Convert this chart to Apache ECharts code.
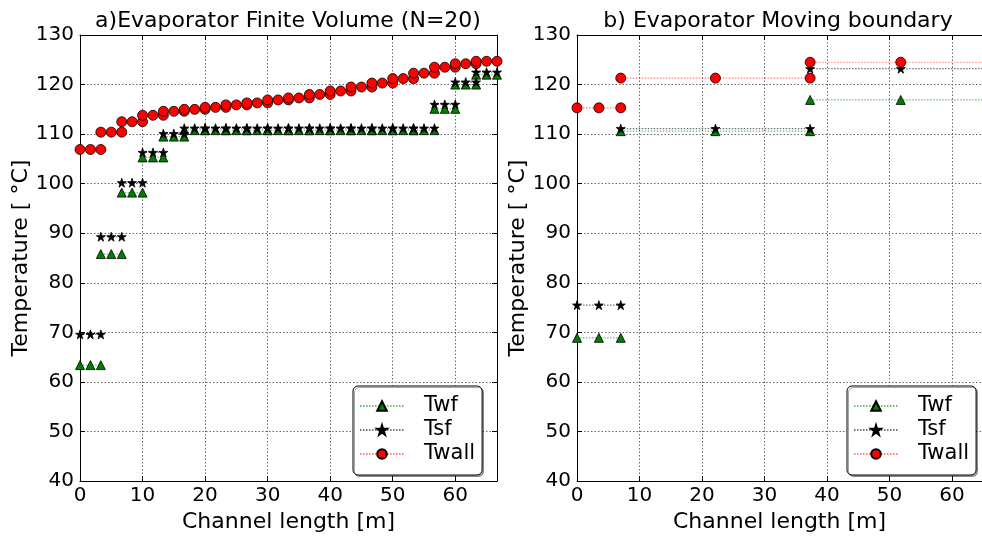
<!DOCTYPE html>
<html>
<head>
<meta charset="utf-8">
<script src="https://cdn.jsdelivr.net/npm/echarts@6/dist/echarts.min.js"></script>
<style>
html,body{margin:0;padding:0;background:#fff;}
#chart{width:982px;height:538px;}
</style>
</head>
<body>
<div id="chart"></div>
<script>
// ---- Data: a) Finite Volume (N=20) ----
// node positions along channel (each cell uses start, middle, end node)
const fvNodes = [0, 1.67, 3.33, 5.0, 6.67, 8.33, 10.0, 11.67, 13.33, 15.0, 16.67, 18.33, 20.0, 21.67, 23.33, 25.0, 26.67, 28.33, 30.0, 31.67, 33.33, 35.0, 36.67, 38.33, 40.0, 41.67, 43.33, 45.0, 46.67, 48.33, 50.0, 51.67, 53.33, 55.0, 56.67, 58.33, 60.0, 61.67, 63.33, 65.0, 66.67];
const fvTwf   = [63.4, 85.8, 98.2, 105.3, 109.5, 110.8, 110.8, 110.8, 110.8, 110.8, 110.8, 110.8, 110.8, 110.8, 110.8, 110.8, 110.8, 115.1, 120.0, 122.0];
const fvTsf   = [69.6, 89.3, 100.2, 106.3, 110.1, 111.2, 111.2, 111.2, 111.2, 111.2, 111.2, 111.2, 111.2, 111.2, 111.2, 111.2, 111.2, 116.0, 120.5, 122.5];
const fvTwall = [106.9, 110.4, 112.5, 113.8, 114.6, 115.0, 115.4, 115.9, 116.3, 116.9, 117.3, 118.0, 118.7, 119.5, 120.3, 121.2, 122.3, 123.5, 124.2, 124.7];

// ---- Data: b) Moving boundary (3 zones) ----
const mbNodes = [0, 3.5, 7.0, 22.15, 37.3, 51.8, 66.3];
const mbTwf   = [68.9, 110.6, 116.9];
const mbTsf   = [75.5, 111.1, 123.2];
const mbTwall = [115.3, 121.3, 124.5];

const xTicks = [0, 10, 20, 30, 40, 50, 60];
const yTicks = [40, 50, 60, 70, 80, 90, 100, 110, 120, 130];
const xMax = [66.67, 64.8];
const seriesNames = ['Twf', 'Tsf', 'Twall'];

function cellData(nodes, vals) {
  const out = [];
  for (let i = 0; i < vals.length; i++) {
    out.push([nodes[2 * i], vals[i]]);
    out.push([nodes[2 * i + 1], vals[i]]);
    out.push([nodes[2 * i + 2], vals[i]]);
    out.push([nodes[2 * i + 2], '-']);
  }
  return out;
}

const FONT = 'DejaVu Sans';
const STAR = 'path://M50,2 L61.5,37 L98,37 L68.5,58.5 L79.5,94 L50,72 L20.5,94 L31.5,58.5 L2,37 L38.5,37 Z';

const styles = {
  Twf:   {symbol: 'triangle', size: 9, fill: '#008000', line: 'rgba(0,128,0,0.55)'},
  Tsf:   {symbol: STAR, size: 9, fill: '#000000', line: 'rgba(0,0,0,0.55)'},
  Twall: {symbol: 'circle', size: 10, fill: '#ff0000', line: 'rgba(255,0,0,0.5)'}
};

function mkSeries(name, data, gi) {
  const s = styles[name];
  return {
    type: 'line', name: name, data: data,
    xAxisIndex: gi * 2, yAxisIndex: gi * 2,
    symbol: s.symbol, symbolSize: s.size, showSymbol: true,
    connectNulls: false, clip: true,
    itemStyle: {color: s.fill, borderColor: '#000', borderWidth: 0.8},
    lineStyle: {color: s.line, width: 1.2, type: [1.5, 1.5]},
    emphasis: {disabled: true}
  };
}

const grids = [
  {left: 80, top: 35, width: 417, height: 450},
  {left: 577, top: 35, width: 405, height: 450}
];

const xAxes = [], yAxes = [];
for (let gi = 0; gi < 2; gi++) {
  xAxes.push({
    type: 'value', gridIndex: gi, min: xTicks[0], max: xMax[gi], interval: 10, position: 'bottom',
    name: 'Channel length [m]', nameLocation: 'middle', nameGap: 27,
    nameTextStyle: {fontFamily: FONT, fontSize: 22, color: '#000'},
    axisLine: {show: true, onZero: false, lineStyle: {color: '#000', width: 1}},
    axisTick: {show: true, inside: true, length: 5, lineStyle: {color: '#000'}},
    axisLabel: {fontFamily: FONT, fontSize: 20, color: '#000', margin: 5, showMaxLabel: false,
      formatter: v => (xTicks.indexOf(v) >= 0 ? String(v) : '')},
    splitLine: {show: true, lineStyle: {color: '#666', width: 1, type: [1.5, 2]}}
  });
  xAxes.push({
    type: 'value', gridIndex: gi, min: xTicks[0], max: xMax[gi], interval: 10, position: 'top',
    axisLine: {show: true, onZero: false, lineStyle: {color: '#000', width: 1}},
    axisTick: {show: true, inside: true, length: 5, lineStyle: {color: '#000'}},
    axisLabel: {show: false}, splitLine: {show: false}
  });
  yAxes.push({
    type: 'value', gridIndex: gi, min: yTicks[0], max: yTicks[yTicks.length - 1], interval: 10, position: 'left',
    name: 'Temperature [ °C]', nameLocation: 'middle', nameGap: gi === 0 ? 47 : 48, nameRotate: 90,
    nameTextStyle: {fontFamily: FONT, fontSize: 22, color: '#000'},
    axisLine: {show: true, onZero: false, lineStyle: {color: '#000', width: 1}},
    axisTick: {show: true, inside: true, length: 5, lineStyle: {color: '#000'}},
    axisLabel: {fontFamily: FONT, fontSize: 20, color: '#000', margin: 6},
    splitLine: {show: true, lineStyle: {color: '#666', width: 1, type: [1.5, 2]}}
  });
  yAxes.push({
    type: 'value', gridIndex: gi, min: yTicks[0], max: yTicks[yTicks.length - 1], interval: 10, position: 'right',
    show: gi === 0,
    axisLine: {show: true, onZero: false, lineStyle: {color: '#000', width: 1}},
    axisTick: {show: true, inside: true, length: 5, lineStyle: {color: '#000'}},
    axisLabel: {show: false}, splitLine: {show: false}
  });
}

const series = [
  mkSeries('Twf', cellData(fvNodes, fvTwf), 0),
  mkSeries('Tsf', cellData(fvNodes, fvTsf), 0),
  mkSeries('Twall', cellData(fvNodes, fvTwall), 0),
  mkSeries('Twf', cellData(mbNodes, mbTwf), 1),
  mkSeries('Tsf', cellData(mbNodes, mbTsf), 1),
  mkSeries('Twall', cellData(mbNodes, mbTwall), 1)
];

function mkLegend(left) {
  return {
    data: seriesNames, orient: 'vertical', left: left, top: 386,
    itemWidth: 44, itemHeight: 12, itemGap: 0,
    padding: [8, 7, 9, 6],
    backgroundColor: '#fff', borderColor: '#000', borderWidth: 1, borderRadius: 5,
    shadowColor: 'rgba(0,0,0,0.35)', shadowOffsetX: 1.5, shadowOffsetY: 1.5, shadowBlur: 0,
    selectedMode: false,
    textStyle: {fontFamily: FONT, fontSize: 21, lineHeight: 24, color: '#000', padding: [0, 0, 0, 15]}
  };
}

const chart = echarts.init(document.getElementById('chart'), null, {renderer: 'canvas'});
chart.setOption({
  animation: false,
  backgroundColor: '#fff',
  grid: grids,
  xAxis: xAxes,
  yAxis: yAxes,
  series: series,
  legend: [mkLegend(353), mkLegend(847)],
  graphic: [
    {type: 'text', x: 288, y: 21, style: {text: 'a)Evaporator Finite Volume (N=20)', fontFamily: FONT, fontSize: 22, fill: '#000', textAlign: 'center', textVerticalAlign: 'middle'}},
    {type: 'text', x: 778, y: 21, style: {text: 'b) Evaporator Moving boundary', fontFamily: FONT, fontSize: 22, fill: '#000', textAlign: 'center', textVerticalAlign: 'middle'}}
  ]
});
</script>
</body>
</html>
